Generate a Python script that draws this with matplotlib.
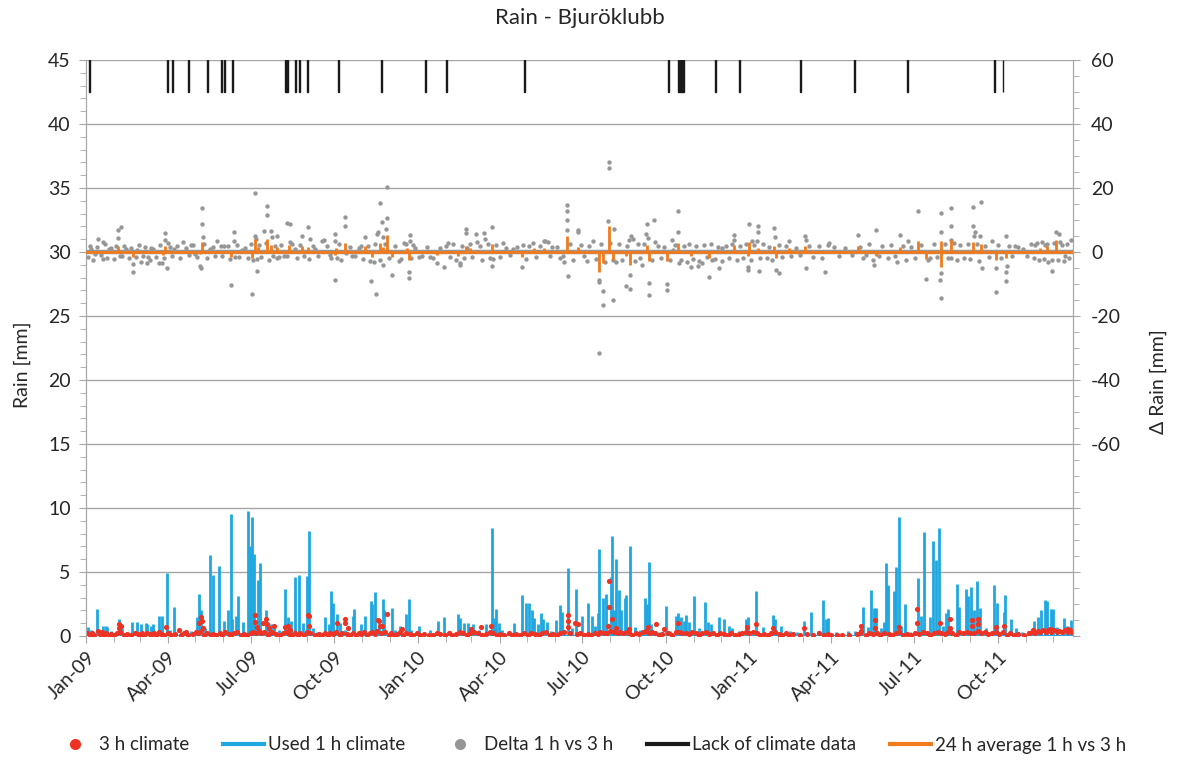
import numpy as np
import matplotlib
matplotlib.use("Agg")
import matplotlib.pyplot as plt
import matplotlib.dates as mdates
from matplotlib.lines import Line2D
from matplotlib.ticker import MultipleLocator, FuncFormatter
import datetime as dt

plt.rcParams['font.family'] = ['Lato', 'DejaVu Sans']

TITLE = "Rain - Bjuröklubb"
START = dt.datetime(2009, 1, 1)
END = dt.datetime(2011, 12, 23)

# Used 1 h climate: (days since 2009-01-01, mm)
rain_1h = [(2,0.7),(5,0.5),(11.8,2.1),(19,0.8),(21.7,0.75),(23.5,0.7),(28,0.4),(36,1.3),(40,0.6),
           (51,1.1),(56.5,1.1),(60,0.9),(65.7,1.0),(67.5,0.9),(71,0.8),(74,0.9),(80.4,1.6),(84,1.6),
           (88.8,4.95),(92,0.5),(96.9,2.3),(105,0.3),(115,0.4),(122.5,1.5),(124.4,3.3),(127,2.0),
           (131,0.6),(136,6.3),(139.5,4.8),(146,5.5),(152,1.2),(156.7,2.0),(159.3,9.5),(160.7,1.35),
           (164.8,1.55),(167,3.1),(173,1.1),(178.7,9.8),(180.5,7.0),(182.8,9.3),(185,6.4),(186.8,0.8),
           (189.4,4.4),(191.6,5.7),(197.8,2.0),(199.6,0.7),(203.3,0.9),(207,0.8),(212,0.5),(219.5,3.7),
           (222.4,1.5),(225.4,1.2),(230,4.6),(234.5,4.8),(239.3,1.0),(243,4.7),(245.5,8.2),(250,0.6),
           (254.7,0.3),(262.8,1.5),(267.5,0.9),(270,3.5),(272.3,2.6),(276,1.7),(279.6,1.0),(285,0.5),
           (293.6,1.6),(295,2.1),(302.4,0.9),(306.8,1.6),(313.4,2.7),(315,2.5),(318.2,3.4),(322,0.9),
           (326.6,2.9),(328,2.0),(336.5,2.2),(340,0.5),(345,0.8),(352.3,1.7),(355.3,2.9),(358,0.5),
           (365.9,0.8),(372,0.3),(378.7,0.5),(387.2,1.2),(393.4,1.5),(400,0.4),(409.6,1.7),(411,1.4),
           (416.2,1.0),(420,1.0),(425.3,0.9),(432,0.5),(439.6,0.9),(446.2,8.4),(448.4,1.4),(450.6,2.1),
           (454,1.0),(458,0.5),(465,0.3),(470.4,1.0),(480,3.2),(483.7,2.55),(487.4,2.55),(491,2.0),
           (493,1.4),(497,0.9),(500.6,1.8),(503,1.3),(507,1.1),(512,0.4),(517.4,1.25),(521.8,2.4),
           (524,1.9),(530.7,5.3),(535,0.6),(539.5,3.7),(546,1.55),(552,2.6),(556.4,1.55),(560,0.8),
           (563.7,1.8),(564.8,6.8),(568.4,3.0),(572.5,3.3),(577.3,4.6),(579,7.8),(581,2.0),(583.5,6.0),
           (586,3.6),(589,2.0),(592.7,3.0),(594.5,3.2),(598.6,7.0),(604,0.7),(610,0.5),(614.7,3.0),
           (617,2.5),(619,5.8),(622,0.9),(630,0.3),(637.8,2.35),(643,0.4),(649.6,1.55),(651.7,1.8),
           (654.7,1.45),(658,1.2),(660.5,1.65),(664,1.1),(669.3,3.1),(674,0.6),(681.2,2.65),(684,1.1),
           (688,0.9),(696.6,1.45),(702,1.3),(707,0.8),(711,0.6),(718,0.4),(726,1.35),(728,1.45),
           (737.6,3.5),(745,0.7),(756,1.65),(758.5,1.3),(765,0.8),(775,0.4),(782,0.3),(790,1.2),
           (798.2,1.9),(805,0.4),(811,2.85),(814.7,1.35),(816.5,1.4),(825,0.3),(838,0.4),(846,0.4),
           (855,2.3),(860,0.7),(863.5,3.6),(867,2.2),(868.8,2.2),(875,0.6),(878.5,1.1),(880,5.7),
           (881.9,4.0),(888.5,3.55),(890.7,5.4),(894,9.3),(897,0.8),(901.4,2.5),(907,0.3),(915,4.5),
           (919,1.6),(922.6,8.1),(928.4,1.45),(932.2,7.45),(935.8,5.9),(938.8,8.4),(943,0.8),
           (946.8,1.8),(949,2.1),(952,0.6),(958.9,4.1),(961,2.3),(968,3.7),(970,3.1),(974.3,3.8),
           (977,2.0),(980.9,4.3),(984,2.2),(990,0.6),(998.9,3.95),(1002,2.55),(1010,1.9),(1011.4,3.2),
           (1018,1.3),(1023,0.6),(1030,0.3),(1036,0.4),(1042.6,1.2),(1048,1.5),(1050.6,2.0),
           (1055.4,2.85),(1057.5,2.7),(1061.7,2.1),(1063.5,2.1),(1068,0.7),(1075.9,1.4),(1079,0.8),
           (1084,1.25)]

# 3 h climate: larger values
rain_3h_high = [(13,0.4),(36,0.95),(36.5,0.6),(38,0.75),(88,0.7),(102,0.5),(110,0.35),(124.4,1.05),
                (127,1.45),(128,1.15),(128.5,0.6),(186,1.65),(186,1.1),(188,0.7),(195,1.05),(198,1.3),
                (199,0.95),(201,0.6),(207,0.8),(219,0.7),(222,0.8),(224,0.5),(244,1.64),(245.5,1.6),
                (245,0.8),(276,1.0),(285.5,1.3),(285.5,1.0),(288,0.6),(321,1.25),(322.6,1.2),(324,0.8),
                (331,1.72),(326,0.75),(348,0.57),(424,0.52),(435,0.73),(446,0.78),(530,1.67),(530,1.2),
                (530,0.73),(537.7,1.0),(541,0.95),(575,4.3),(575,2.3),(578.5,1.35),(574,0.8),(583,0.6),
                (597,0.55),(618,0.73),(627,0.9),(651,1.05),(636,0.55),(727,0.73),(737.6,0.95),(756,0.6),
                (790,0.6),(853,0.8),(853,0.4),(867.7,1.25),(867.7,0.62),(894,0.73),(914,2.1),(914,1.05),
                (940,1.0),(951,1.3),(951,0.6),(974.7,1.25),(974.7,0.8),(982,1.3),(982,0.9),(1001,0.68),
                (1010,0.78),(1042,0.5),(1061,0.55),(1080,0.55)]

# 3 h climate: low values band
rain_3h_low = [(1,0.2),(4,0.1),(7,0.25),(9,0.1),(15,0.15),(18,0.3),(20,0.1),(22,0.2),(25,0.1),(27,0.15),
               (31,0.1),(34,0.2),(37,0.3),(42,0.1),(45,0.15),(50,0.1),(54,0.2),(57,0.15),(59,0.1),
               (62,0.25),(64,0.1),(67,0.2),(70,0.15),(72,0.1),(75,0.2),(77,0.1),(80,0.3),(83,0.15),
               (86,0.1),(90,0.2),(94,0.1),(98,0.15),(104,0.1),(108,0.2),(112,0.1),(118,0.15),(121,0.3),
               (123,0.2),(126,0.4),(130,0.1),(133,0.2),(137,0.1),(140,0.15),(143,0.1),(147,0.2),
               (150,0.1),(153,0.3),(157,0.15),(160,0.1),(163,0.2),(166,0.3),(170,0.1),(174,0.15),
               (177,0.1),(181,0.2),(184,0.35),(187,0.2),(190,0.4),(193,0.2),(196,0.3),(200,0.1),
               (203,0.2),(205,0.35),(209,0.15),(213,0.1),(217,0.2),(220,0.3),(223,0.15),(227,0.1),
               (230,0.2),(233,0.1),(236,0.25),(240,0.1),(243,0.3),(247,0.2),(252,0.1),(256,0.15),
               (260,0.1),(263,0.2),(266,0.1),(269,0.25),(272,0.15),(275,0.3),(279,0.1),(282,0.2),
               (287,0.15),(291,0.1),(294,0.2),(297,0.1),(300,0.25),(303,0.15),(306,0.3),(309,0.1),
               (312,0.2),(315,0.3),(318,0.15),(320,0.4),(325,0.2),(329,0.3),(333,0.1),(336,0.2),
               (339,0.1),(342,0.15),(345,0.3),(349,0.1),(352,0.2),(356,0.15),(360,0.1),(364,0.2),
               (368,0.1),(372,0.15),(377,0.1),(382,0.1),(386,0.2),(390,0.15),(395,0.1),(399,0.2),
               (403,0.1),(407,0.15),(411,0.3),(415,0.2),(419,0.1),(422,0.25),(427,0.35),(431,0.2),
               (436,0.1),(440,0.15),(444,0.3),(448,0.2),(452,0.1),(456,0.15),(460,0.1),(465,0.2),
               (469,0.1),(473,0.15),(477,0.1),(482,0.25),(486,0.1),(490,0.2),(494,0.15),(498,0.1),
               (502,0.2),(506,0.3),(510,0.1),(514,0.15),(518,0.1),(522,0.2),(526,0.3),(533,0.2),
               (540,0.15),(544,0.2),(548,0.1),(552,0.15),(556,0.1),(560,0.2),(563,0.15),(566,0.3),
               (570,0.2),(573,0.25),(577,0.4),(581,0.3),(585,0.2),(588,0.35),(591,0.2),(595,0.3),
               (598,0.2),(601,0.1),(605,0.25),(609,0.15),(613,0.3),(616,0.4),(620,0.25),(623,0.3),
               (626,0.2),(630,0.1),(634,0.15),(640,0.2),(645,0.1),(649,0.35),(653,0.3),(656,0.2),
               (660,0.25),(663,0.15),(667,0.3),(671,0.2),(675,0.1),(678,0.2),(682,0.3),(686,0.15),
               (690,0.2),(694,0.1),(698,0.25),(702,0.15),(706,0.1),(710,0.2),(714,0.1),(718,0.15),
               (722,0.25),(726,0.3),(730,0.2),(734,0.35),(738,0.2),(742,0.1),(746,0.15),(750,0.1),
               (754,0.2),(758,0.3),(762,0.15),(766,0.1),(770,0.2),(774,0.1),(778,0.15),(786,0.1),
               (793,0.15),(800,0.1),(806,0.2),(812,0.1),(816,0.15),(820,0.1),(826,0.1),(832,0.1),
               (840,0.1),(848,0.15),(852,0.2),(858,0.1),(862,0.25),(866,0.15),(870,0.2),(874,0.1),
               (878,0.2),(883,0.15),(887,0.1),(891,0.2),(895,0.3),(899,0.1),(903,0.15),(908,0.1),
               (912,0.2),(917,0.15),(921,0.3),(925,0.2),(929,0.1),(933,0.2),(937,0.3),(941,0.2),
               (945,0.15),(949,0.35),(953,0.2),(957,0.1),(961,0.3),(965,0.2),(969,0.35),(973,0.2),
               (977,0.25),(981,0.4),(985,0.2),(989,0.3),(993,0.15),(997,0.2),(1001,0.35),(1005,0.15),
               (1009,0.3),(1013,0.1),(1017,0.2),(1021,0.1),(1026,0.15),(1032,0.1),(1038,0.2),
               (1041,0.3),(1044,0.2),(1047,0.4),(1050,0.3),(1053,0.45),(1056,0.3),(1059,0.5),
               (1062,0.35),(1065,0.45),(1068,0.3),(1071,0.4),(1074,0.35),(1077,0.5),(1080,0.3),
               (1083,0.45),(1085,0.3)]

# Delta 1 h vs 3 h (right axis, mm): outliers
delta = [(2,-1.5),(6,1.0),(10,-0.5),(13.5,4.2),(19,3.2),(19,-2.1),(25,0.8),(35.6,6.9),(38,7.7),
         (35.6,4.3),(37,-1.4),(44,1.0),(52,-6.4),(52,-3.75),(56,0.5),(60.6,-3.0),(66.8,-3.3),
         (68,-1.7),(74,0.9),(80.7,-3.5),(84,-3.5),(87.3,5.8),(87.3,3.75),(88.8,-4.9),(90,2.7),
         (97,1.0),(106.4,3.1),(115,2.2),(120,-0.6),(125.5,-4.4),(127,-4.9),(127.7,13.9),(127.7,8.6),
         (128.5,4.6),(136,0.8),(144.6,3.4),(152,1.9),(159.3,-10.2),(163,6.25),(162.5,3.5),(164,-1.6),
         (172,0.7),(183,-13.0),(186,18.5),(186,5.0),(187.5,4.2),(188,-2.2),(188,-5.8),(196,6.7),
         (199.6,14.4),(199.6,11.5),(203.7,6.7),(204.5,4.8),(206,-1.2),(210.6,5.0),(210,-2.0),
         (221,9.0),(225,8.65),(221,-1.4),(224,3.1),(230,1.0),(238,5.0),(244.4,7.8),(245,-2.3),
         (247,4.0),(252,0.8),(259.5,3.5),(262,3.7),(268,-1.0),(273.8,-8.75),(274,5.5),(274.5,3.5),
         (276,-2.0),(285.5,10.8),(285.5,8.1),(286,-0.4),(293,-1.4),(300,1.2),(307.5,4.6),(314,-9.1),
         (317,-3.0),(319,-13.0),(320.5,5.6),(321.5,6.1),(323,15.4),(326,9.3),(326.5,-4.1),
         (327,4.6),(331,10.7),(331,20.2),(330,7.2),(337,-7.1),(344,-2.7),(350,2.7),(355,-6.1),
         (355,-8.1),(356,5.3),(357,3.3),(360,2.1),(366,-1.5),(379,-1.5),(386,-3.5),(394,-4.6),
         (396,1.9),(398,2.7),(411,-3.5),(411.5,-4.2),(418,7.1),(418.5,5.8),(419,1.2),(429,5.6),
         (430,3.2),(438,5.8),(439,4.2),(446.6,7.9),(446.5,-4.4),(448,-2.1),(458.7,2.9),(470,1.0),
         (480,-4.8),(481,2.2),(492,2.7),(503.5,3.3),(508,3.2),(513,1.5),(505,3.3),(525.7,-3.1),
         (529.6,14.8),(529.6,12.7),(529.6,10.1),(529,7.0),(530,-7.6),(525,-1.3),(541,6.8),(541.5,6.2),
         (551,-2.9),(558,3.3),(564.6,-8.6),(564.6,-31.6),(565,-9.4),(569,-12.3),(569,-16.5),
         (575,28.0),(575,26.3),(574.5,9.8),(580,-14.9),(580.5,7.2),(580,-2.4),(594,-10.7),
         (599,-11.6),(599,-7.1),(597,3.8),(600,4.9),(602,4.2),(612,-4.0),(616,5.7),(617,8.9),
         (618,4.4),(620,-9.7),(620,-13.5),(625,9.9),(626,3.0),(639,-9.9),(639,-12.0),(645,3.85),
         (646,0.7),(651.4,12.7),(651.4,6.1),(652,-3.4),(666,-4.7),(673,-4.3),(678,-3.4),(685,-7.8),
         (689,-2.4),(697,-5.0),(700,1.2),(713,5.4),(713,3.8),(728,-4.7),(728,-5.7),(730,8.6),
         (733,3.3),(739,8.2),(739,6.1),(740,-6.0),(738,3.3),(757,7.6),(758,4.7),(759,-5.5),
         (762,-6.5),(773,3.3),(791.6,5.1),(792,3.8),(792,-5.0),(813,-6.25),(818,2.8),(823,1.6),
         (849,5.4),(858,-0.8),(866,-2.4),(866.5,-4.0),(869,6.8),(896,5.4),(892,-3.2),(904,3.3),
         (916,12.7),(924.6,-8.4),(926,-2.4),(940.5,12.2),(941,6.1),(941,-6.6),(941,-14.4),
         (940,-8.6),(952.3,13.9),(952.3,8.0),(952,3.8),(951.5,-1.9),(976,14.0),(976.5,8.0),
         (978,6.1),(977,4.9),(984.8,15.7),(984,4.9),(986,-5.0),(997,3.3),(1000.8,-12.6),(1001,-5.0),
         (1012.7,4.9),(1013,-4.3),(1012.7,-9.2),(1012.7,-6.4),(1022,1.8),(1031,0.9),(1044,2.3),
         (1055,2.3),(1062.9,-2.4),(1062.9,-6.0),(1067.5,6.1),(1071,5.7),(1074,2.2),(1077,-1.3),
         (1084,3.8)]

# Delta 1 h vs 3 h: small values hugging the zero line
delta_small = [(4,2.0),(8,-2.5),(12,1.5),(16,-1.0),(21,2.4),(23,-1.8),(28,1.2),(31,-2.2),(33,2.0),
               (40,-1.2),(42,1.8),(47,-2.0),(49,1.4),(55,-1.5),(58,2.1),(63,-1.1),(65,1.6),(70,-2.4),
               (72,1.2),(77,-1.6),(81,2.2),(86,-2.0),(92,1.5),(95,-1.2),(100,2.0),(103,-1.8),(110,1.4),
               (113,-1.0),(118,2.2),(122,-1.6),(130,2.4),(133,-2.0),(140,1.6),(142,-1.4),(148,2.0),
               (150,-1.2),(156,1.8),(158,-2.2),(166,2.2),(168,-1.5),(175,1.4),(178,-1.8),(181,2.6),
               (184,-2.4),(190,2.2),(193,-1.6),(198,2.8),(201,-2.5),(208,2.0),(212,-1.6),(215,2.3),
               (218,-1.2),(227,2.5),(232,-2.0),(236,2.2),(240,-1.4),(250,1.8),(255,-1.2),(265,2.0),
               (270,-1.8),(278,2.4),(281,-2.6),(290,1.6),(296,-1.3),(303,2.0),(305,-2.2),(310,1.8),
               (312,-2.8),(318,2.4),(324,-2.4),(329,2.6),(333,-1.8),(340,2.0),(347,-2.2),(352,2.5),
               (358,-1.8),(362,1.4),(370,-1.2),(375,1.5),(382,-2.0),(390,1.2),(400,-1.5),(404,2.4),
               (407,-2.6),(414,2.0),(416,-2.0),(422,2.4),(425,-1.6),(433,2.0),(436,-2.4),(442,2.6),
               (444,-1.8),(451,2.2),(455,-1.6),(462,1.4),(466,-1.0),(474,1.5),(484,-2.2),(487,2.0),
               (495,-1.5),(499,1.8),(510,-1.2),(518,1.6),(521,-2.0),(533,2.4),(536,-2.5),(545,2.2),
               (548,-1.4),(554,1.8),(561,-2.2),(567,2.5),(571,-3.0),(577,2.8),(583,-3.0),(586,2.4),
               (590,-2.6),(595,2.0),(604,-2.8),(607,2.4),(610,-2.0),(614,2.6),(623,-2.4),(629,2.0),
               (633,-2.0),(636,1.6),(643,-2.4),(648,2.2),(655,-2.6),(658,2.0),(661,-3.0),(664,2.4),
               (668,-2.2),(671,1.8),(675,-2.8),(680,2.2),(683,-1.6),(688,2.4),(692,-2.2),(695,1.6),
               (700,-2.8),(704,2.0),(707,-1.8),(711,2.6),(716,-2.4),(720,1.8),(723,-2.0),(726,2.4),
               (732,-2.6),(735,2.2),(742,-2.0),(745,2.4),(749,-1.8),(752,1.6),(755,-2.4),(762,2.2),
               (766,-1.6),(770,2.0),(776,-1.2),(781,1.4),(786,-1.0),(795,2.0),(800,-1.6),(806,1.8),
               (810,-2.0),(816,2.2),(828,-1.2),(835,1.4),(843,-1.0),(852,1.6),(855,-2.0),(862,2.4),
               (872,-1.4),(876,1.8),(882,-2.0),(886,2.2),(890,-1.2),(899,2.0),(902,-2.4),(908,1.6),
               (912,-1.8),(919,2.2),(929,-2.0),(933,2.6),(936,-1.6),(945,2.4),(948,-2.0),(955,2.8),
               (958,-2.4),(962,2.2),(966,-1.8),(970,2.4),(973,-2.2),(980,2.6),(983,-2.8),(989,2.0),
               (994,-1.6),(1004,2.2),(1007,-1.8),(1016,2.0),(1019,-1.4),(1026,1.6),(1035,-1.2),
               (1040,2.4),(1043,-2.0),(1046,2.8),(1049,-2.6),(1052,3.0),(1054,-2.2),(1057,2.6),
               (1059,-3.0),(1065,2.8),(1069,-2.4),(1072,3.2),(1076,-2.8),(1079,2.4),(1082,-2.0)]

# 24 h average 1 h vs 3 h (right axis, mm)
avg_24h = [(35.6,1.9),(52,-1.5),(87,1.9),(85,-0.9),(127.7,3.2),(125,-0.6),(160,-1.5),(183,-2.0),
           (186,4.0),(189,1.7),(199.6,4.2),(203.7,2.2),(210.6,1.6),(223,2.1),(238,1.9),(244,1.5),
           (273.8,-1.0),(275,1.4),(285.5,2.7),(307,1.9),(315,-1.7),(323,2.7),(331,5.3),(327,1.7),
           (337,-1.5),(355,-2.5),(353,1.4),(386,-0.9),(409,-1.2),(418,1.9),(422,1.4),(446.6,2.5),
           (480,-1.5),(493,1.2),(504,1.2),(529.6,5.1),(541,1.6),(564.6,-6.4),(569,-3.5),(575,8.2),
           (580,-2.4),(594,-1.2),(599,-4.0),(617,2.3),(620,-2.9),(639,-2.9),(651,2.8),(666,-1.2),
           (685,-1.9),(713,2.3),(728,-1.2),(730,3.0),(739,1.2),(757,2.0),(759,-1.9),(773,1.2),
           (791.6,2.0),(849,2.0),(869,-1.2),(896,1.5),(916,3.5),(924.6,-2.2),(940.5,3.3),
           (941,-4.7),(952.3,3.9),(976,3.0),(984.8,2.6),(1000.8,-2.4),(1012.7,-1.9),(1050,1.2),
           (1057,1.9),(1067.5,3.6)]

# Lack of climate data: (start day, number of days)
lack = [(3,1),(89,1),(95,1),(112,1),(133,1),(148.5,1),(152,1),(161,1),(219,3),(229.8,1),(234,1),
        (243.6,1),(277.4,1),(325,1),(373,1),(396,1),(482,1),(640,1),(651,7.5),(692.5,1),(719,1),
        (786,1),(845,1),(903.7,1),(999,1),(1008.5,1)]

LEFT_TICKS = list(range(0, 50, 5))
RIGHT_LABELS = [-60, -40, -20, 0, 20, 40, 60]

BLUE = '#1fa8e0'
RED = '#ee3224'
GRAY = '#969696'
ORANGE = '#f07b1f'
GRID = '#a6a6a6'
TXT = '#262626'

base = mdates.date2num(START)
def to_x(days):
    return base + np.asarray(days, dtype=float)

fig = plt.figure(figsize=(11.77, 7.60), dpi=100)
ax = fig.add_axes([86/1177, 1-636/760, (1073-86)/1177, (636-60)/760])
ax2 = ax.twinx()

ax.set_ylim(0, 45)
ax2.set_ylim(-120, 60)
ax.set_xlim(base, mdates.date2num(END))

for y in LEFT_TICKS:
    ax.axhline(y, color=GRID, lw=1.0, zorder=0)

# blue spikes
bd, bv = zip(*rain_1h)
ax.vlines(to_x(bd), 0, bv, color=BLUE, lw=2.0, zorder=2)
ax.axhline(0.03, color=BLUE, lw=1.5, zorder=2)
# red dots
rd, rv = zip(*(rain_3h_low + rain_3h_high))
ax.scatter(to_x(rd), rv, s=14, color=RED, zorder=3, linewidths=0)

# right-axis series
dd, dv = zip(*(delta_small + delta))
ax2.scatter(to_x(dd), dv, s=10, color=GRAY, zorder=3, linewidths=0)
ax2.axhline(0, color=GRAY, lw=3.2, zorder=3)
ax2.axhline(0, color=ORANGE, lw=2.0, zorder=4)
od, ov = zip(*avg_24h)
ax2.vlines(to_x(od), 0, ov, color=ORANGE, lw=2.0, zorder=4)
for s, n in lack:
    ax2.bar(base + s, 10, width=n, bottom=50, align='edge', color='#1a1a1a',
            edgecolor='#1a1a1a', linewidth=1.0, zorder=5)

# axes styling
for a in (ax, ax2):
    for sp in ('top', 'bottom'):
        a.spines[sp].set_visible(False)
    a.spines['left'].set_color(GRID)
    a.spines['right'].set_color(GRID)
ax.yaxis.set_major_locator(MultipleLocator(5))
ax.yaxis.set_minor_locator(MultipleLocator(1))
ax.tick_params(axis='y', which='major', length=5, color=GRID, labelsize=14, labelcolor=TXT, pad=6)
ax.tick_params(axis='y', which='minor', length=4, color=GRID)
ax2.yaxis.set_major_locator(MultipleLocator(20))
ax2.yaxis.set_minor_locator(MultipleLocator(5))
ax2.yaxis.set_major_formatter(FuncFormatter(lambda v, p: f"{int(round(v))}" if round(v) in RIGHT_LABELS else ""))
ax2.tick_params(axis='y', which='major', length=5, color=GRID, labelsize=14, labelcolor=TXT, pad=8)
ax2.tick_params(axis='y', which='minor', length=4, color=GRID)

ax.xaxis.set_major_locator(mdates.MonthLocator(bymonth=[1, 4, 7, 10]))
ax.xaxis.set_minor_locator(mdates.MonthLocator())
ax.xaxis.set_major_formatter(mdates.DateFormatter('%b-%y'))
ax.tick_params(axis='x', which='major', length=5, color=GRID, labelsize=14, labelcolor=TXT, pad=4)
ax.tick_params(axis='x', which='minor', length=4, color=GRID)
for lab in ax.get_xticklabels():
    lab.set_rotation(45)
    lab.set_ha('right')
    lab.set_va('top')
    lab.set_rotation_mode('anchor')

fig.text(580/1177, 1-18/760, TITLE, ha='center', va='center', fontsize=16, color=TXT)
fig.text(22/1177, 1-365/760, 'Rain [mm]', rotation=90, ha='center', va='center', fontsize=14, color=TXT)
fig.text(1158/1177, 1-382/760, 'Δ Rain [mm]', rotation=90, ha='center', va='center', fontsize=14, color=TXT)

handles = [
    Line2D([], [], ls='none', marker='o', color=RED, markersize=7),
    Line2D([], [], color=BLUE, lw=3),
    Line2D([], [], ls='none', marker='o', color=GRAY, markersize=7),
    Line2D([], [], color='#1a1a1a', lw=3),
    Line2D([], [], color=ORANGE, lw=3),
]
labels = ['3 h climate', 'Used 1 h climate', 'Delta 1 h vs 3 h', 'Lack of climate data', '24 h average 1 h vs 3 h']
fig.legend(handles, labels, loc='center', bbox_to_anchor=(590/1177, 1-745/760), ncol=5,
           frameon=False, fontsize=13.5, handlelength=2.2, handletextpad=0.2, columnspacing=1.8,
           labelcolor=TXT)

fig.savefig('out.png', dpi=100)
